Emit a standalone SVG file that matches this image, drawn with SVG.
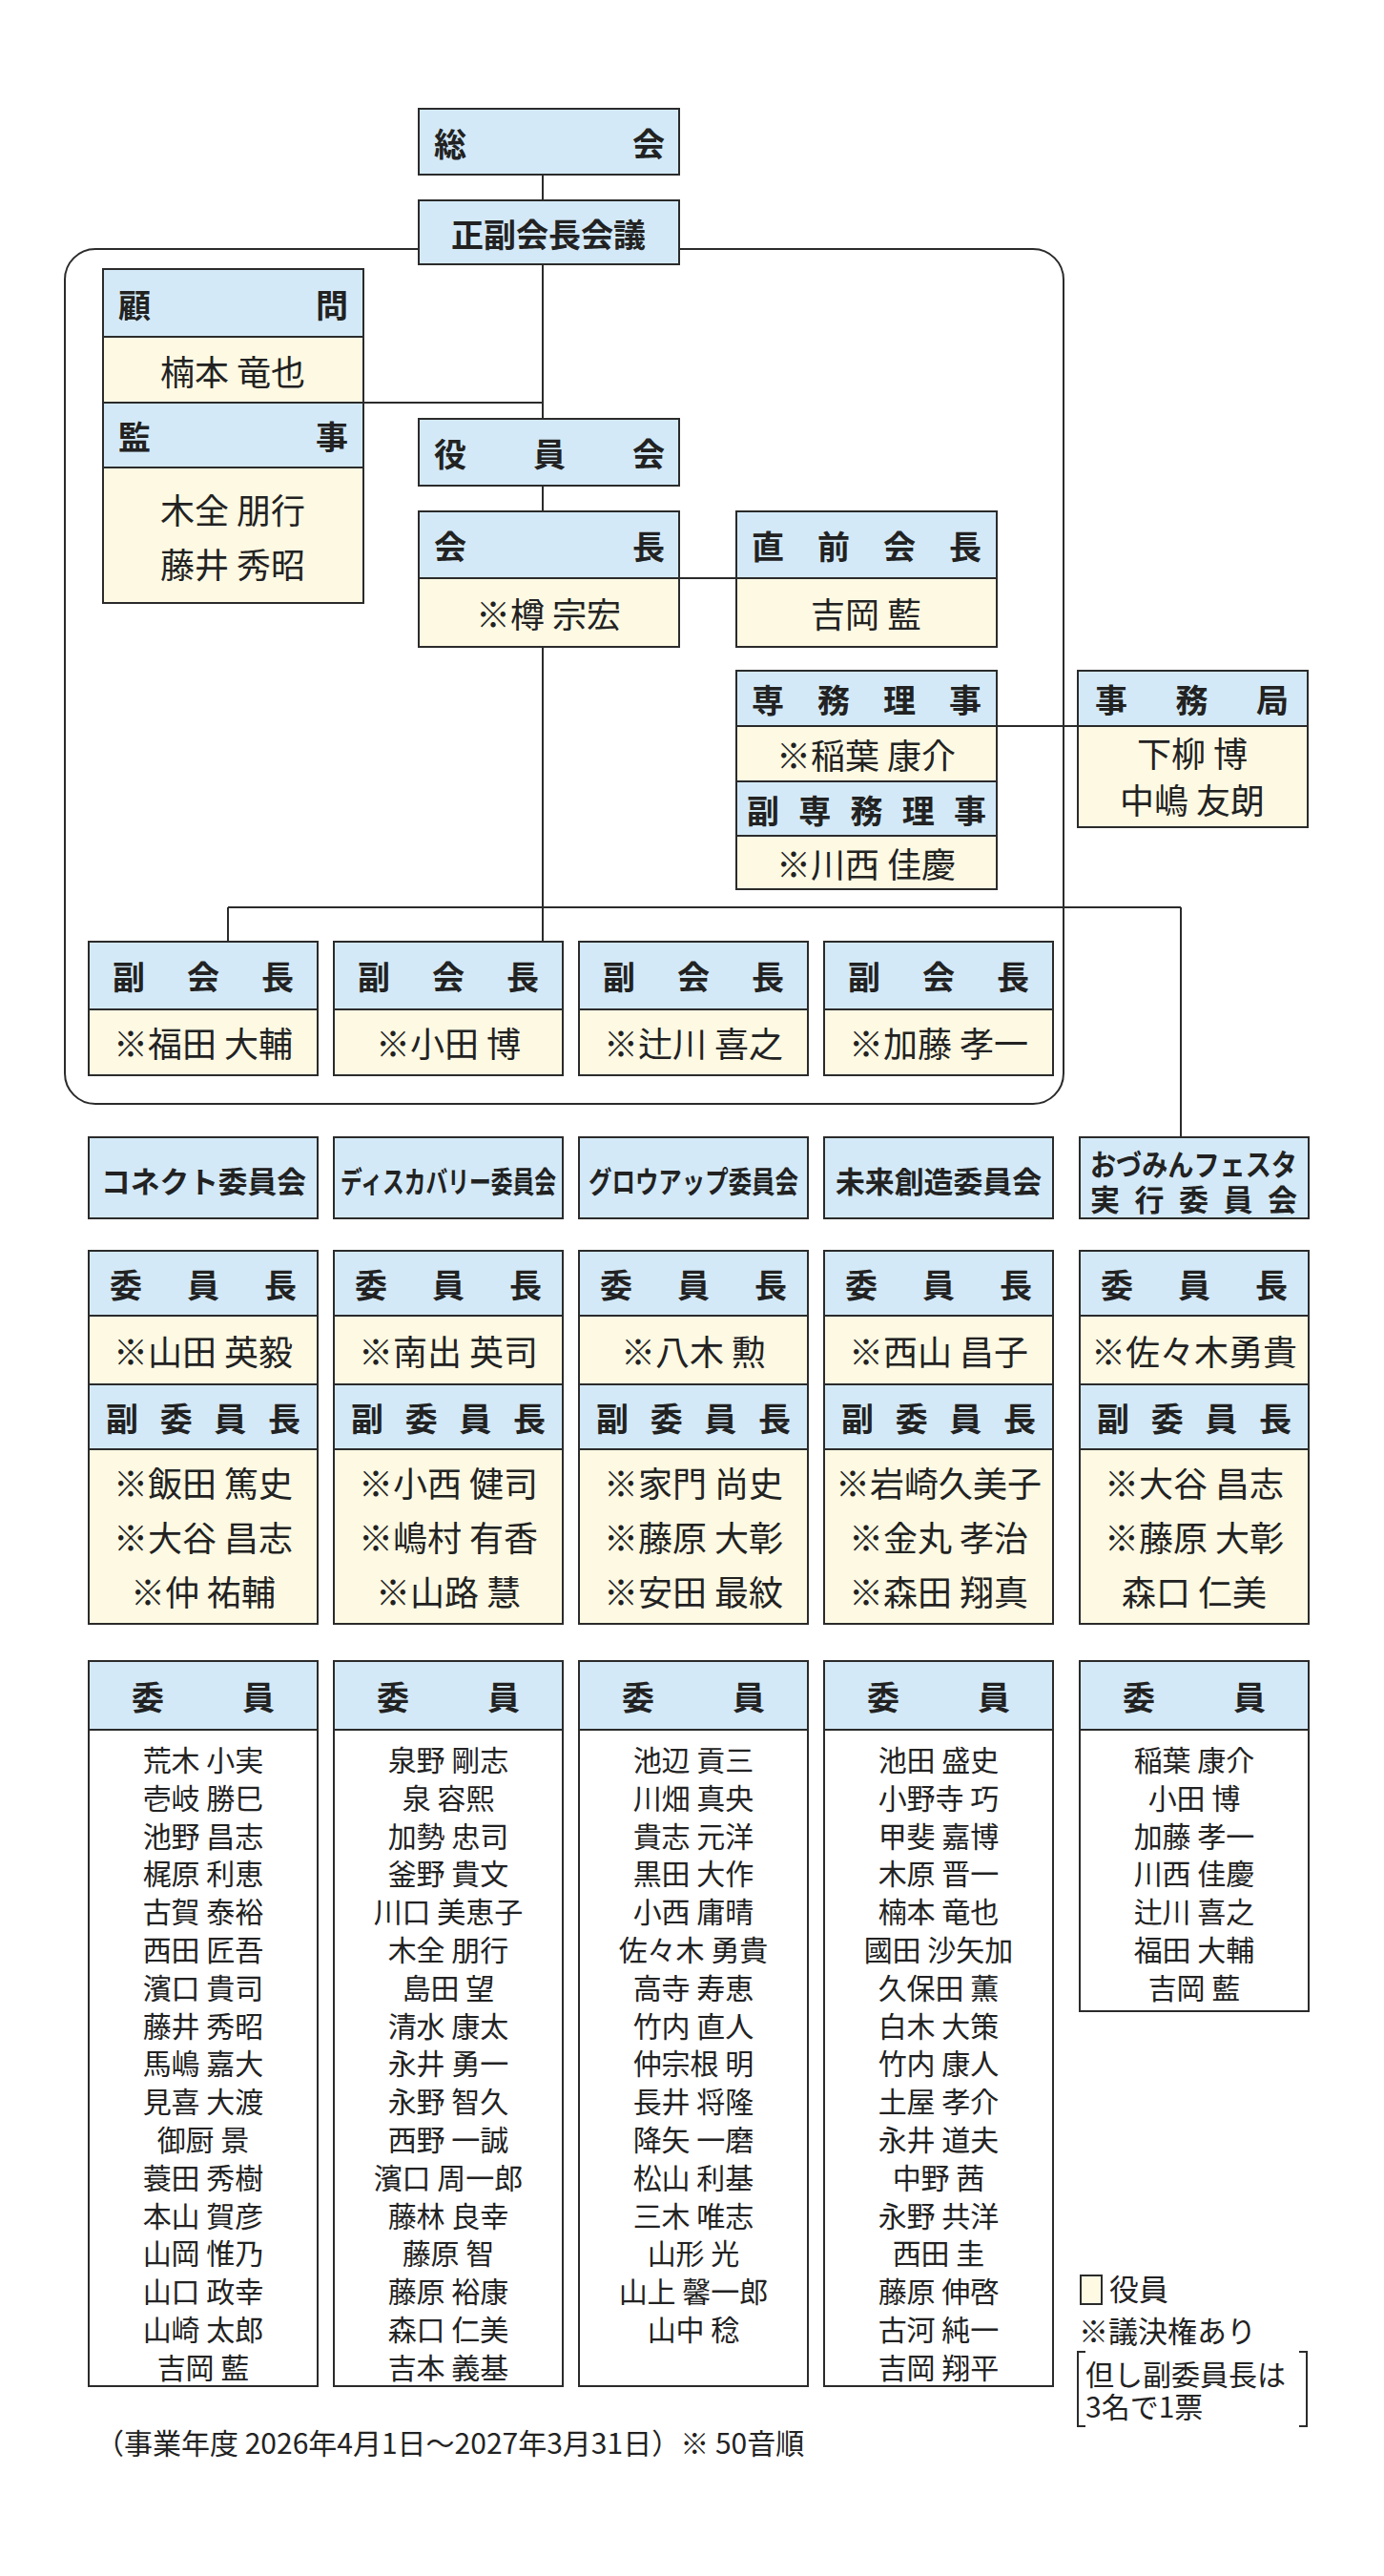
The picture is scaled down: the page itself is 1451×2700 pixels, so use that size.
<svg xmlns="http://www.w3.org/2000/svg" width="1451" height="2700" viewBox="0 0 1451 2700">
<style>
.h{fill:#d3e9f7;stroke:#2b2b2b;stroke-width:2}
.n{fill:#fdf9e3;stroke:#2b2b2b;stroke-width:2}
.w{fill:#fff;stroke:#2b2b2b;stroke-width:2}
.ht{font-family:"Noto Sans CJK JP","Noto Sans",sans-serif;font-weight:700;font-size:34px;fill:#222;dominant-baseline:central}
.nt{font-family:"Noto Sans CJK JP","Noto Sans",sans-serif;font-size:36px;fill:#222;dominant-baseline:central;text-anchor:middle}
.lt{font-family:"Noto Sans CJK JP","Noto Sans",sans-serif;font-size:30px;fill:#222;text-anchor:middle}
.st{font-family:"Noto Sans CJK JP","Noto Sans",sans-serif;font-size:31px;fill:#222;text-anchor:start}
.ct{font-family:"Noto Sans CJK JP","Noto Sans",sans-serif;font-weight:700;font-size:31px;fill:#222;dominant-baseline:central}
.ln{fill:none;stroke:#2b2b2b;stroke-width:2}
</style>
<rect width="1451" height="2700" fill="#fff"/>
<g id="connectors">
<rect class="ln" x="68" y="261" width="1047" height="896" rx="32"/>
<path class="ln" d="M569 183V210M569 277V439M381 422H569M569 509V536M712 606H772M1045 761H1130M569 678V987M239 951H1238M239 951V987M1238 951V1192"/>
</g>
<g id="sokai"><rect class="h" x="439" y="114" width="273" height="69"/><text class="ht" x="455" y="149" textLength="242" lengthAdjust="spacing">総会</text></g>
<g id="seifuku"><rect class="h" x="439" y="210" width="273" height="67"/><text class="ht" x="575" y="244" text-anchor="middle">正副会長会議</text></g>
<g id="komon"><rect class="h" x="108" y="282" width="273" height="71"/><text class="ht" x="124" y="318" textLength="241" lengthAdjust="spacing">顧問</text>
<rect class="n" x="108" y="353" width="273" height="69"/><text class="nt" x="244" y="388">楠本 竜也</text></g>
<g id="kanji"><rect class="h" x="108" y="422" width="273" height="68"/><text class="ht" x="124" y="456" textLength="241" lengthAdjust="spacing">監事</text>
<rect class="n" x="108" y="490" width="273" height="142"/><text class="nt" x="244" y="533">木全 朋行</text><text class="nt" x="244" y="590">藤井 秀昭</text></g>
<g id="yakuinkai"><rect class="h" x="439" y="439" width="273" height="70"/><text class="ht" x="455" y="474" textLength="242" lengthAdjust="spacing">役員会</text></g>
<g id="kaicho"><rect class="h" x="439" y="536" width="273" height="70"/><text class="ht" x="455" y="571" textLength="242" lengthAdjust="spacing">会長</text>
<rect class="n" x="439" y="606" width="273" height="72"/><text class="nt" x="575" y="642">※樽 宗宏</text></g>
<g id="chokuzen"><rect class="h" x="772" y="536" width="273" height="70"/><text class="ht" x="788" y="571" textLength="241" lengthAdjust="spacing">直前会長</text>
<rect class="n" x="772" y="606" width="273" height="72"/><text class="nt" x="908" y="642">吉岡 藍</text></g>
<g id="senmu"><rect class="h" x="772" y="703" width="273" height="58"/><text class="ht" x="788" y="732" textLength="241" lengthAdjust="spacing">専務理事</text>
<rect class="n" x="772" y="761" width="273" height="58"/><text class="nt" x="908" y="790">※稲葉 康介</text></g>
<g id="fukusenmu"><rect class="h" x="772" y="819" width="273" height="57"/><text class="ht" x="783" y="848" textLength="251" lengthAdjust="spacing">副専務理事</text>
<rect class="n" x="772" y="876" width="273" height="56"/><text class="nt" x="908" y="904">※川西 佳慶</text></g>
<g id="jimukyoku"><rect class="h" x="1130" y="703" width="241" height="58"/><text class="ht" x="1148" y="732" textLength="203" lengthAdjust="spacing">事務局</text>
<rect class="n" x="1130" y="761" width="241" height="106"/><text class="nt" x="1250" y="788">下柳 博</text><text class="nt" x="1250" y="837">中嶋 友朗</text></g>
<g id="fukukaicho1"><rect class="h" x="93" y="987" width="240" height="71"/><text class="ht" x="118" y="1022" textLength="190" lengthAdjust="spacing">副会長</text><rect class="n" x="93" y="1058" width="240" height="69"/><text class="nt" x="213" y="1092">※福田 大輔</text></g>
<g id="fukukaicho2"><rect class="h" x="350" y="987" width="240" height="71"/><text class="ht" x="375" y="1022" textLength="190" lengthAdjust="spacing">副会長</text><rect class="n" x="350" y="1058" width="240" height="69"/><text class="nt" x="470" y="1092">※小田 博</text></g>
<g id="fukukaicho3"><rect class="h" x="607" y="987" width="240" height="71"/><text class="ht" x="632" y="1022" textLength="190" lengthAdjust="spacing">副会長</text><rect class="n" x="607" y="1058" width="240" height="69"/><text class="nt" x="727" y="1092">※辻川 喜之</text></g>
<g id="fukukaicho4"><rect class="h" x="864" y="987" width="240" height="71"/><text class="ht" x="889" y="1022" textLength="190" lengthAdjust="spacing">副会長</text><rect class="n" x="864" y="1058" width="240" height="69"/><text class="nt" x="984" y="1092">※加藤 孝一</text></g>
<g id="iinkai1"><rect class="h" x="93" y="1192" width="240" height="85"/><text class="ct" x="106" y="1236" textLength="215" lengthAdjust="spacingAndGlyphs">コネクト委員会</text></g>
<g id="iinkai2"><rect class="h" x="350" y="1192" width="240" height="85"/><text class="ct" x="357" y="1236" textLength="226" lengthAdjust="spacingAndGlyphs">ディスカバリー委員会</text></g>
<g id="iinkai3"><rect class="h" x="607" y="1192" width="240" height="85"/><text class="ct" x="617" y="1236" textLength="220" lengthAdjust="spacingAndGlyphs">グロウアップ委員会</text></g>
<g id="iinkai4"><rect class="h" x="864" y="1192" width="240" height="85"/><text class="ct" x="876" y="1236" textLength="216" lengthAdjust="spacingAndGlyphs">未来創造委員会</text></g>
<g id="iinkai5"><rect class="h" x="1132" y="1192" width="240" height="85"/><text class="ct" x="1143" y="1218" font-size="29" textLength="217" lengthAdjust="spacingAndGlyphs">おづみんフェスタ</text><text class="ct" x="1143" y="1255" font-size="29" textLength="217" lengthAdjust="spacing">実行委員会</text></g>
<g id="leaders">
<rect class="h" x="93" y="1311" width="240" height="68"/><text class="ht" x="115" y="1345" textLength="196" lengthAdjust="spacing">委員長</text>
<rect class="h" x="350" y="1311" width="240" height="68"/><text class="ht" x="372" y="1345" textLength="196" lengthAdjust="spacing">委員長</text>
<rect class="h" x="607" y="1311" width="240" height="68"/><text class="ht" x="629" y="1345" textLength="196" lengthAdjust="spacing">委員長</text>
<rect class="h" x="864" y="1311" width="240" height="68"/><text class="ht" x="886" y="1345" textLength="196" lengthAdjust="spacing">委員長</text>
<rect class="h" x="1132" y="1311" width="240" height="68"/><text class="ht" x="1154" y="1345" textLength="196" lengthAdjust="spacing">委員長</text>
<rect class="n" x="93" y="1379" width="240" height="72"/><text class="nt" x="213" y="1415">※山田 英毅</text>
<rect class="n" x="350" y="1379" width="240" height="72"/><text class="nt" x="470" y="1415">※南出 英司</text>
<rect class="n" x="607" y="1379" width="240" height="72"/><text class="nt" x="727" y="1415">※八木 勲</text>
<rect class="n" x="864" y="1379" width="240" height="72"/><text class="nt" x="984" y="1415">※西山 昌子</text>
<rect class="n" x="1132" y="1379" width="240" height="72"/><text class="nt" x="1252" y="1415">※佐々木勇貴</text>
<rect class="h" x="93" y="1451" width="240" height="68"/><text class="ht" x="111" y="1485" textLength="204" lengthAdjust="spacing">副委員長</text>
<rect class="h" x="350" y="1451" width="240" height="68"/><text class="ht" x="368" y="1485" textLength="204" lengthAdjust="spacing">副委員長</text>
<rect class="h" x="607" y="1451" width="240" height="68"/><text class="ht" x="625" y="1485" textLength="204" lengthAdjust="spacing">副委員長</text>
<rect class="h" x="864" y="1451" width="240" height="68"/><text class="ht" x="882" y="1485" textLength="204" lengthAdjust="spacing">副委員長</text>
<rect class="h" x="1132" y="1451" width="240" height="68"/><text class="ht" x="1150" y="1485" textLength="204" lengthAdjust="spacing">副委員長</text>
<rect class="n" x="93" y="1519" width="240" height="183"/><text class="nt" x="213" y="1553">※飯田 篤史</text><text class="nt" x="213" y="1610">※大谷 昌志</text><text class="nt" x="213" y="1667">※仲 祐輔</text>
<rect class="n" x="350" y="1519" width="240" height="183"/><text class="nt" x="470" y="1553">※小西 健司</text><text class="nt" x="470" y="1610">※嶋村 有香</text><text class="nt" x="470" y="1667">※山路 慧</text>
<rect class="n" x="607" y="1519" width="240" height="183"/><text class="nt" x="727" y="1553">※家門 尚史</text><text class="nt" x="727" y="1610">※藤原 大彰</text><text class="nt" x="727" y="1667">※安田 最紋</text>
<rect class="n" x="864" y="1519" width="240" height="183"/><text class="nt" x="984" y="1553">※岩崎久美子</text><text class="nt" x="984" y="1610">※金丸 孝治</text><text class="nt" x="984" y="1667">※森田 翔真</text>
<rect class="n" x="1132" y="1519" width="240" height="183"/><text class="nt" x="1252" y="1553">※大谷 昌志</text><text class="nt" x="1252" y="1610">※藤原 大彰</text><text class="nt" x="1252" y="1667">森口 仁美</text>
</g>
<g id="members1"><rect class="w" x="93" y="1813" width="240" height="688"/><rect class="h" x="93" y="1741" width="240" height="72"/><text class="ht" x="138" y="1777" textLength="150" lengthAdjust="spacing">委員</text>
<text class="lt" x="213" y="1856">荒木 小実<tspan x="213" dy="39.8">壱岐 勝巳</tspan><tspan x="213" dy="39.8">池野 昌志</tspan><tspan x="213" dy="39.8">梶原 利恵</tspan><tspan x="213" dy="39.8">古賀 泰裕</tspan><tspan x="213" dy="39.8">西田 匠吾</tspan><tspan x="213" dy="39.8">濱口 貴司</tspan><tspan x="213" dy="39.8">藤井 秀昭</tspan><tspan x="213" dy="39.8">馬嶋 嘉大</tspan><tspan x="213" dy="39.8">見喜 大渡</tspan><tspan x="213" dy="39.8">御厨 景</tspan><tspan x="213" dy="39.8">蓑田 秀樹</tspan><tspan x="213" dy="39.8">本山 賀彦</tspan><tspan x="213" dy="39.8">山岡 惟乃</tspan><tspan x="213" dy="39.8">山口 政幸</tspan><tspan x="213" dy="39.8">山崎 太郎</tspan><tspan x="213" dy="39.8">吉岡 藍</tspan></text></g>
<g id="members2"><rect class="w" x="350" y="1813" width="240" height="688"/><rect class="h" x="350" y="1741" width="240" height="72"/><text class="ht" x="395" y="1777" textLength="150" lengthAdjust="spacing">委員</text>
<text class="lt" x="470" y="1856">泉野 剛志<tspan x="470" dy="39.8">泉 容熙</tspan><tspan x="470" dy="39.8">加勢 忠司</tspan><tspan x="470" dy="39.8">釜野 貴文</tspan><tspan x="470" dy="39.8">川口 美恵子</tspan><tspan x="470" dy="39.8">木全 朋行</tspan><tspan x="470" dy="39.8">島田 望</tspan><tspan x="470" dy="39.8">清水 康太</tspan><tspan x="470" dy="39.8">永井 勇一</tspan><tspan x="470" dy="39.8">永野 智久</tspan><tspan x="470" dy="39.8">西野 一誠</tspan><tspan x="470" dy="39.8">濱口 周一郎</tspan><tspan x="470" dy="39.8">藤林 良幸</tspan><tspan x="470" dy="39.8">藤原 智</tspan><tspan x="470" dy="39.8">藤原 裕康</tspan><tspan x="470" dy="39.8">森口 仁美</tspan><tspan x="470" dy="39.8">吉本 義基</tspan></text></g>
<g id="members3"><rect class="w" x="607" y="1813" width="240" height="688"/><rect class="h" x="607" y="1741" width="240" height="72"/><text class="ht" x="652" y="1777" textLength="150" lengthAdjust="spacing">委員</text>
<text class="lt" x="727" y="1856">池辺 貢三<tspan x="727" dy="39.8">川畑 真央</tspan><tspan x="727" dy="39.8">貴志 元洋</tspan><tspan x="727" dy="39.8">黒田 大作</tspan><tspan x="727" dy="39.8">小西 庸晴</tspan><tspan x="727" dy="39.8">佐々木 勇貴</tspan><tspan x="727" dy="39.8">高寺 寿恵</tspan><tspan x="727" dy="39.8">竹内 直人</tspan><tspan x="727" dy="39.8">仲宗根 明</tspan><tspan x="727" dy="39.8">長井 将隆</tspan><tspan x="727" dy="39.8">降矢 一磨</tspan><tspan x="727" dy="39.8">松山 利基</tspan><tspan x="727" dy="39.8">三木 唯志</tspan><tspan x="727" dy="39.8">山形 光</tspan><tspan x="727" dy="39.8">山上 馨一郎</tspan><tspan x="727" dy="39.8">山中 稔</tspan></text></g>
<g id="members4"><rect class="w" x="864" y="1813" width="240" height="688"/><rect class="h" x="864" y="1741" width="240" height="72"/><text class="ht" x="909" y="1777" textLength="150" lengthAdjust="spacing">委員</text>
<text class="lt" x="984" y="1856">池田 盛史<tspan x="984" dy="39.8">小野寺 巧</tspan><tspan x="984" dy="39.8">甲斐 嘉博</tspan><tspan x="984" dy="39.8">木原 晋一</tspan><tspan x="984" dy="39.8">楠本 竜也</tspan><tspan x="984" dy="39.8">國田 沙矢加</tspan><tspan x="984" dy="39.8">久保田 薫</tspan><tspan x="984" dy="39.8">白木 大策</tspan><tspan x="984" dy="39.8">竹内 康人</tspan><tspan x="984" dy="39.8">土屋 孝介</tspan><tspan x="984" dy="39.8">永井 道夫</tspan><tspan x="984" dy="39.8">中野 茜</tspan><tspan x="984" dy="39.8">永野 共洋</tspan><tspan x="984" dy="39.8">西田 圭</tspan><tspan x="984" dy="39.8">藤原 伸啓</tspan><tspan x="984" dy="39.8">古河 純一</tspan><tspan x="984" dy="39.8">吉岡 翔平</tspan></text></g>
<g id="members5"><rect class="w" x="1132" y="1813" width="240" height="295"/><rect class="h" x="1132" y="1741" width="240" height="72"/><text class="ht" x="1177" y="1777" textLength="150" lengthAdjust="spacing">委員</text>
<text class="lt" x="1252" y="1856">稲葉 康介<tspan x="1252" dy="39.8">小田 博</tspan><tspan x="1252" dy="39.8">加藤 孝一</tspan><tspan x="1252" dy="39.8">川西 佳慶</tspan><tspan x="1252" dy="39.8">辻川 喜之</tspan><tspan x="1252" dy="39.8">福田 大輔</tspan><tspan x="1252" dy="39.8">吉岡 藍</tspan></text></g>
<g id="legend">
<rect class="n" x="1133" y="2385" width="22" height="30"/>
<text class="st" x="1163" y="2411">役員</text>
<text class="st" x="1131" y="2455">※議決権あり</text>
<path class="ln" d="M1138 2465H1130V2543H1138M1362 2465H1370V2543H1362"/>
<text class="st" x="1138" y="2500" style="font-size:30px">但し副委員長は</text>
<text class="st" x="1138" y="2534" style="font-size:30px">3名で1票</text>
</g>
<text class="st" x="100" y="2572" style="font-size:30px">（事業年度 2026年4月1日～2027年3月31日）※ 50音順</text>
</svg>
